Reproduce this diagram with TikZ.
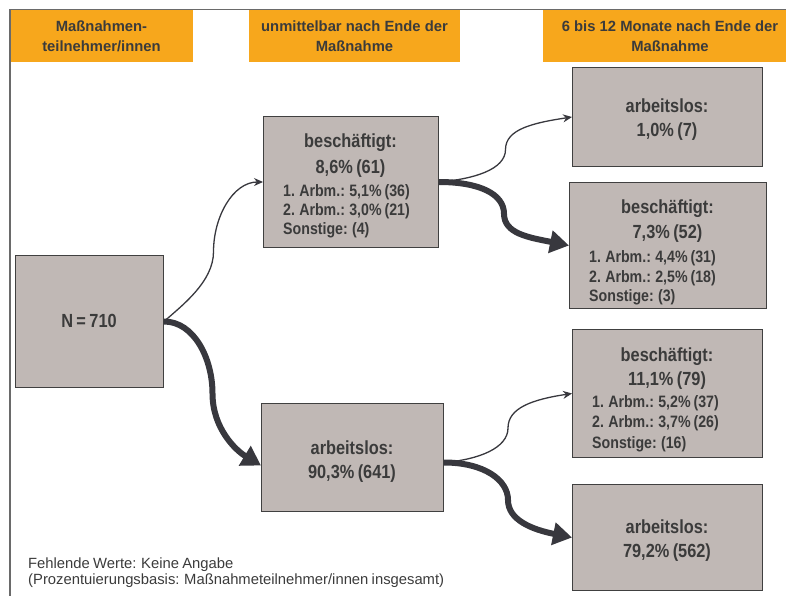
\documentclass[tikz,border=0pt]{standalone}
\usepackage{fontspec}
\setmainfont{Liberation Sans}
\newfontfamily\nodefont[FakeStretch=0.86,WordSpace=0.75]{Liberation Sans}
\newfontfamily\notefont[WordSpace=0.8]{Liberation Sans}
\usetikzlibrary{arrows.meta,calc}
\definecolor{hdr}{HTML}{F7A71C}
\definecolor{boxfill}{HTML}{C0B8B5}
\definecolor{boxline}{HTML}{404040}
\definecolor{txt}{HTML}{3B3B3B}
\definecolor{arr}{HTML}{38383E}
\definecolor{frameline}{HTML}{6A6A6A}
\begin{document}
\begin{tikzpicture}[x=1pt,y=-1pt,
  box/.style={draw=boxline, fill=boxfill, line width=1pt, anchor=north west, inner sep=0pt},
  hdrbox/.style={fill=hdr, anchor=north west, inner sep=0pt},
  htext/.style={text=txt, font=\fontsize{14.8}{17}\selectfont\bfseries, anchor=base, inner sep=0pt},
  bigtext/.style={text=txt, font=\nodefont\fontsize{19}{22}\selectfont\bfseries, anchor=base, inner sep=0pt},
  smalltext/.style={text=txt, font=\nodefont\fontsize{16.5}{19}\selectfont\bfseries, anchor=base west, inner sep=0pt},
  notetext/.style={text=txt, font=\notefont\fontsize{14.8}{17}\selectfont, anchor=base west, inner sep=0pt},
  thinarrow/.style={draw=arr, line width=1.3pt, -{Stealth[length=9pt,width=8pt]}},
  thickarrow/.style={draw=arr, line width=6pt, -{Triangle[length=19pt,width=22pt]}},
  frame/.style={draw=frameline, line width=1.4pt}
]
\useasboundingbox (0,0) rectangle (786,596);

% headers
\node[hdrbox, minimum width=183pt, minimum height=52pt] (h1) at (10,10) {};
\node[hdrbox, minimum width=211pt, minimum height=52pt] (h2) at (249,10) {};
\node[hdrbox, minimum width=243pt, minimum height=52pt] (h3) at (543,10) {};
\draw[frame] (10,9.3) -- (786,9.3);
\draw[frame] (10,9.3) -- (10,596);

\node[htext] (h1a) at (101.5,32) {Maßnahmen-};
\node[htext] (h1b) at (101.5,52) {teilnehmer/innen};
\node[htext] (h2a) at (354.5,32) {unmittelbar nach Ende der};
\node[htext] (h2b) at (354.5,52) {Maßnahme};
\node[htext] (h3a) at (670,32) {6 bis 12 Monate nach Ende der};
\node[htext] (h3b) at (670,52) {Maßnahme};

% boxes
\node[box, minimum width=148pt, minimum height=132pt] (n) at (15,255) {};
\node[box, minimum width=175pt, minimum height=131pt] (b1) at (263,116) {};
\node[box, minimum width=182pt, minimum height=108pt] (a1) at (261,403) {};
\node[box, minimum width=190pt, minimum height=99pt] (c1) at (572,67) {};
\node[box, minimum width=197pt, minimum height=126pt] (c2) at (569,182) {};
\node[box, minimum width=190pt, minimum height=128pt] (c3) at (572,329) {};
\node[box, minimum width=190pt, minimum height=106pt] (c4) at (572,484) {};

% texts
\node[bigtext] (nt) at (89,327) {N = 710};

\node[bigtext] (b1t1) at (350.5,148) {beschäftigt:};
\node[bigtext] (b1t2) at (350.5,173) {8,6\% (61)};
\node[smalltext] (b1t3) at (283,196) {1. Arbm.: 5,1\% (36)};
\node[smalltext] (b1t4) at (283,215) {2. Arbm.: 3,0\% (21)};
\node[smalltext] (b1t5) at (283,234) {Sonstige: (4)};

\node[bigtext] (a1t1) at (352,454) {arbeitslos:};
\node[bigtext] (a1t2) at (352,478) {90,3\% (641)};

\node[bigtext] (c1t1) at (667,113) {arbeitslos:};
\node[bigtext] (c1t2) at (667,137) {1,0\% (7)};

\node[bigtext] (c2t1) at (667.5,213) {beschäftigt:};
\node[bigtext] (c2t2) at (667.5,238) {7,3\% (52)};
\node[smalltext] (c2t3) at (589,262) {1. Arbm.: 4,4\% (31)};
\node[smalltext] (c2t4) at (589,282) {2. Arbm.: 2,5\% (18)};
\node[smalltext] (c2t5) at (589,301) {Sonstige: (3)};

\node[bigtext] (c3t1) at (667,361) {beschäftigt:};
\node[bigtext] (c3t2) at (667,385) {11,1\% (79)};
\node[smalltext] (c3t3) at (592,407) {1. Arbm.: 5,2\% (37)};
\node[smalltext] (c3t4) at (592,427) {2. Arbm.: 3,7\% (26)};
\node[smalltext] (c3t5) at (592,448) {Sonstige: (16)};

\node[bigtext] (c4t1) at (667,533) {arbeitslos:};
\node[bigtext] (c4t2) at (667,557) {79,2\% (562)};

% connectors
\draw[thinarrow] (n.east) .. controls +(18,-16) and +(0,30) .. ($(n.east)!0.5!(b1.west)$) .. controls +(0,-35) and +(-30,0) .. (b1.west);
\draw[thickarrow] (n.east) .. controls +(30,0) and +(0,-35) .. ($(n.east)!0.5!([yshift=-8pt]a1.west)$) .. controls +(0,35) and +(-25,-15) .. ([yshift=-8pt]a1.west);

\draw[thinarrow] (b1.east) .. controls +(35,-3) and +(0,20) .. ($(b1.east)!0.5!(c1.west)$) .. controls +(0,-20) and +(-40,6) .. (c1.west);
\draw[thickarrow] (b1.east) .. controls +(40,0) and +(0,-20) .. ($(b1.east)!0.5!(c2.west)$) .. controls +(0,20) and +(-40,-8) .. (c2.west);

\draw[thinarrow] ([yshift=-5pt]a1.east) .. controls +(35,-3) and +(0,20) .. ($([yshift=-5pt]a1.east)!0.5!(c3.west)$) .. controls +(0,-20) and +(-40,6) .. (c3.west);
\draw[thickarrow] ([yshift=-5pt]a1.east) .. controls +(40,0) and +(0,-20) .. ($([yshift=-5pt]a1.east)!0.5!(c4.west)$) .. controls +(0,20) and +(-40,-8) .. (c4.west);

% footnote
\node[notetext] (f1) at (28,568) {Fehlende Werte: Keine Angabe};
\node[notetext] (f2) at (28,584) {(Prozentuierungsbasis: Maßnahmeteilnehmer/innen insgesamt)};
\end{tikzpicture}
\end{document}
